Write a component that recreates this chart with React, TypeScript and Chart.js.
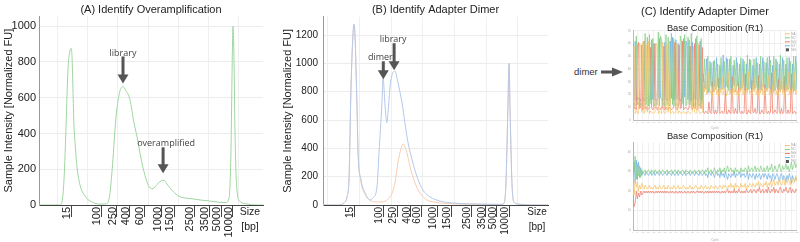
import React, { useEffect, useRef } from 'react';
import { Chart, registerables } from 'chart.js';

Chart.register(...registerables);

const SANS = '"Liberation Sans", Arial, Helvetica, sans-serif';
const NOTE = '"Open Sans", "Liberation Sans", Arial, sans-serif';

// ---------------- Panel A / B : electropherograms ----------------
const ladderSizes = ['15', '100', '250', '400', '600', '1000', '1500', '2500', '3500', '5000', '10000'];

// migration time of each ladder band (run A)
const ladderTimesA = [14.3, 27.7, 34.8, 40.6, 46.9, 54.9, 60.3, 69.2, 75.9, 81.3, 86.4];
// run A : overamplified library
const timeA = [0, 9.4, 10.3, 11.2, 12.1, 12.9, 13.8, 14.3, 14.7, 15.6, 16.1, 17.0, 18.3, 20.5, 23.7, 27.2, 29.9, 30.8, 31.7, 33.0, 33.9, 34.8, 36.2, 37.5, 38.8, 40.6, 42.4, 43.8, 45.1, 46.4, 48.2, 49.6, 50.9, 52.7, 54.5, 55.8, 57.1, 58.5, 60.3, 62.1, 64.7, 68.3, 71.9, 76.3, 80.8, 83.5, 84.8, 85.7, 86.2, 86.6, 87.1, 87.5, 88.4, 89.7, 93.3, 96.4, 100];
const intensityA = [0, 0, 20, 150, 450, 750, 860, 876, 840, 450, 348, 208, 112, 51, 17, 5, 6, 15, 67, 253, 420, 540, 640, 663, 640, 590, 460, 380, 290, 210, 130, 95, 92, 115, 135, 138, 118, 95, 70, 52, 40, 35, 28, 22, 15, 14, 35, 300, 750, 1000, 780, 400, 80, 20, 5, 0, 0];

// migration time of each ladder band (run B)
const ladderTimesB = [13.8, 26.7, 32.9, 39.1, 43.6, 50.7, 56.9, 65.8, 72.4, 77.3, 82.7];
// run B : library with adapter dimer (blue)
const timeBDimer = [0, 6.7, 9.3, 10.7, 11.6, 12.4, 13.3, 13.8, 14.2, 15.1, 15.6, 16.9, 18.7, 20.9, 22.2, 24.0, 24.9, 26.2, 26.7, 27.6, 28.4, 28.9, 29.8, 31.1, 32.0, 33.3, 35.1, 36.4, 37.8, 39.6, 41.8, 44.4, 47.6, 52.0, 57.8, 65.3, 74.2, 78.7, 80.4, 81.3, 82.2, 82.7, 83.1, 84.0, 84.9, 87.6, 92.0, 100];
const intensityBDimer = [0, 0, 15, 60, 200, 800, 1200, 1277, 1200, 700, 369, 177, 85, 35, 50, 128, 369, 723, 895, 695, 582, 652, 837, 936, 945, 865, 723, 582, 440, 319, 199, 106, 57, 28, 14, 8, 5, 4, 10, 150, 700, 1000, 700, 150, 20, 5, 0, 0];
// run B : clean library (orange)
const timeBClean = [0, 6.7, 9.3, 10.7, 11.6, 12.4, 13.3, 13.8, 14.2, 15.1, 15.6, 16.9, 18.7, 20.9, 24.0, 26.7, 28.4, 29.8, 31.1, 32.0, 33.3, 34.7, 35.6, 36.4, 37.3, 38.7, 40.9, 43.1, 46.2, 49.8, 52.0, 58.7, 65.3, 74.2, 78.7, 80.4, 81.3, 82.2, 82.7, 83.1, 84.0, 84.9, 87.6, 92.0, 100];
const intensityBClean = [0, 0, 15, 60, 200, 800, 1200, 1277, 1200, 700, 369, 160, 75, 35, 21, 22, 35, 57, 100, 156, 298, 400, 433, 410, 369, 270, 156, 85, 35, 20, 14, 8, 5, 5, 4, 10, 150, 700, 1000, 700, 150, 20, 5, 0, 0];

// ---------------- Panel C : base composition per cycle ----------------
const cycles = Array.from({ length: 150 }, (_, i) => i + 1);
const baseLabels = ['%A', '%C', '%G', '%T'];

// adapter-dimer sample
const dimerA = [6, 58, 5, 7, 6, 5, 60, 57, 6, 61, 5, 7, 59, 6, 62, 5, 7, 6, 5, 6, 6, 60, 58, 5, 7, 6, 5, 61, 6, 5, 7, 59, 6, 62, 5, 6, 7, 5, 6, 6, 60, 5, 7, 6, 5, 6, 7, 5, 6, 5, 7, 6, 5, 6, 7, 58, 6, 5, 6, 61, 7, 5, 6, 6,
  30, 22, 35, 20, 24, 38, 21, 23, 18, 26, 22, 36, 20, 24, 19, 25, 21, 34, 20, 23, 26, 19, 22, 37, 20, 24, 18, 25, 21, 35, 20, 23, 19, 26, 22, 36, 20, 24, 18, 25, 21, 38, 21, 23, 19, 27, 22, 34, 20, 24, 18, 26, 21, 37, 20, 23, 19, 25, 22, 35, 20, 24, 18, 27, 21, 39, 20, 23, 19, 26, 22, 36, 21, 24, 18, 27, 22, 38, 20, 24, 19, 26, 21, 37, 20, 24];
const dimerC = [12, 13, 11, 66, 12, 14, 11, 13, 12, 11, 13, 68, 12, 65, 11, 67, 13, 12, 64, 11, 12, 13, 12, 69, 11, 66, 63, 12, 13, 11, 67, 12, 65, 11, 13, 68, 12, 64, 11, 12, 13, 11, 12, 66, 62, 13, 12, 67, 11, 12, 65, 13, 12, 68, 11, 12, 13, 11, 66, 12, 12, 11, 64, 13,
  28, 48, 24, 26, 50, 22, 27, 45, 25, 22, 47, 24, 26, 44, 23, 27, 49, 25, 24, 46, 25, 27, 48, 23, 26, 50, 24, 26, 47, 22, 25, 45, 26, 24, 49, 25, 27, 46, 23, 26, 51, 24, 25, 47, 26, 24, 48, 25, 26, 45, 24, 25, 50, 23, 25, 46, 27, 24, 49, 26, 25, 47, 24, 25, 50, 23, 26, 46, 25, 24, 51, 24, 25, 47, 25, 23, 49, 24, 26, 46, 24, 25, 50, 23, 25, 46];
const dimerG = [60, 9, 10, 8, 58, 61, 9, 10, 59, 8, 62, 9, 10, 8, 9, 10, 57, 9, 8, 10, 60, 9, 8, 10, 9, 8, 10, 9, 58, 8, 10, 9, 8, 10, 9, 8, 9, 10, 61, 9, 8, 10, 59, 9, 10, 62, 8, 9, 10, 9, 8, 10, 58, 9, 8, 10, 60, 9, 8, 9, 59, 10, 9, 57,
  6, 5, 7, 6, 5, 14, 6, 5, 30, 6, 5, 8, 5, 6, 33, 5, 6, 7, 5, 6, 24, 5, 5, 8, 6, 5, 34, 6, 5, 9, 6, 5, 29, 6, 5, 7, 5, 6, 36, 5, 5, 8, 6, 5, 31, 6, 6, 9, 5, 6, 35, 5, 5, 8, 6, 5, 28, 6, 5, 7, 5, 6, 37, 5, 6, 8, 6, 5, 32, 6, 5, 9, 5, 6, 34, 6, 5, 8, 5, 6, 36, 5, 6, 7, 5, 6];
const dimerT = [17, 16, 62, 15, 18, 16, 17, 15, 16, 18, 15, 16, 17, 18, 16, 15, 17, 63, 16, 60, 17, 15, 16, 17, 64, 18, 16, 15, 17, 61, 16, 17, 15, 16, 62, 17, 65, 16, 18, 63, 16, 60, 17, 15, 16, 17, 64, 18, 62, 59, 16, 63, 17, 15, 61, 16, 17, 64, 16, 15, 17, 62, 16, 18,
  36, 25, 34, 48, 21, 26, 46, 27, 27, 46, 26, 32, 49, 26, 25, 43, 24, 34, 51, 25, 25, 49, 25, 32, 48, 21, 24, 43, 27, 34, 49, 27, 26, 44, 24, 32, 48, 24, 23, 44, 23, 30, 48, 25, 24, 43, 24, 32, 49, 25, 23, 44, 24, 32, 49, 26, 26, 45, 24, 32, 50, 23, 21, 43, 23, 30, 48, 26, 24, 44, 22, 31, 49, 23, 23, 44, 24, 30, 49, 24, 21, 44, 23, 33, 50, 24];

// clean library sample
const libA = [24, 18, 26, 22, 25, 20, 23, 21, 24, 22, 21, 23, 22, 21, 22, 23, 21, 22, 21, 22, 23, 21, 22, 21, 23, 22, 21, 22, 23, 21, 22, 21, 23, 22, 21, 22, 21, 23, 22, 21, 22, 23, 21, 22, 21, 22, 23, 22, 21, 22, 21, 22, 23, 21, 22, 21, 22, 23, 22, 21, 22, 21, 23, 22, 21, 22, 23, 21, 22, 22, 21, 23, 22, 22, 21, 23, 22, 21, 22, 23, 22, 21, 23, 22, 23, 22, 21, 23, 22, 24, 22, 23, 21, 24, 22, 23, 22, 21, 24, 22, 23, 22, 24, 21, 23, 22, 24, 23, 22, 24, 23, 22, 24, 23, 25, 22, 24, 23, 22, 24, 23, 25, 22, 24, 23, 25, 22, 24, 26, 23, 24, 25, 23, 26, 24, 23, 25, 27, 23, 25, 24, 26, 25, 23, 27, 25, 24, 26, 28, 25];
const libC = [46, 30, 38, 26, 34, 28, 33, 27, 31, 29, 30, 31, 29, 30, 31, 30, 29, 31, 30, 29, 31, 30, 29, 30, 31, 29, 30, 31, 30, 29, 30, 31, 29, 30, 30, 31, 29, 30, 31, 30, 29, 31, 30, 29, 30, 31, 30, 29, 31, 30, 30, 29, 31, 30, 29, 30, 31, 29, 30, 30, 31, 29, 30, 31, 30, 29, 31, 30, 32, 29, 30, 31, 29, 30, 32, 30, 29, 31, 30, 32, 29, 31, 30, 32, 29, 31, 33, 30, 31, 32, 30, 31, 29, 32, 30, 31, 30, 29, 32, 30, 31, 30, 32, 31, 29, 33, 30, 31, 32, 30, 31, 33, 30, 32, 31, 30, 33, 31, 30, 32, 30, 31, 33, 30, 32, 31, 34, 30, 31, 33, 31, 30, 32, 34, 31, 30, 33, 31, 32, 34, 31, 33, 30, 32, 35, 31, 33, 35, 32, 34];
const libG = [18, 12, 14, 20, 16, 19, 17, 20, 18, 19, 20, 19, 20, 19, 20, 19, 20, 19, 20, 19, 19, 20, 19, 20, 19, 20, 19, 20, 19, 20, 19, 20, 19, 19, 20, 19, 20, 19, 19, 20, 19, 19, 20, 19, 20, 19, 19, 20, 19, 19, 20, 19, 19, 20, 19, 20, 19, 19, 20, 20, 19, 20, 19, 20, 19, 19, 20, 19, 20, 19, 20, 19, 20, 19, 20, 19, 20, 19, 20, 19, 19, 20, 19, 20, 19, 20, 21, 19, 20, 19, 20, 19, 21, 19, 20, 19, 21, 20, 19, 20, 19, 20, 19, 21, 20, 19, 20, 21, 19, 20, 21, 20, 19, 21, 20, 22, 19, 20, 21, 19, 20, 21, 19, 22, 20, 19, 21, 20, 22, 19, 21, 20, 19, 21, 22, 20, 19, 21, 20, 22, 20, 19, 21, 22, 19, 21, 20, 19, 21, 20];
const libT = [28, 35, 24, 36, 26, 35, 27, 32, 28, 30, 29, 28, 30, 29, 28, 29, 30, 28, 29, 30, 28, 29, 30, 29, 28, 30, 29, 28, 29, 30, 29, 28, 30, 29, 29, 28, 30, 29, 28, 29, 30, 28, 29, 30, 29, 28, 29, 30, 28, 29, 29, 30, 28, 29, 30, 29, 28, 30, 29, 29, 28, 30, 29, 28, 29, 30, 28, 29, 27, 30, 29, 28, 30, 29, 27, 29, 30, 28, 29, 27, 30, 28, 29, 27, 30, 28, 26, 29, 28, 27, 29, 28, 30, 27, 29, 28, 29, 30, 27, 29, 28, 29, 27, 28, 30, 26, 29, 28, 27, 29, 28, 26, 29, 27, 28, 29, 26, 28, 29, 27, 29, 28, 26, 29, 27, 28, 25, 29, 28, 26, 28, 29, 27, 25, 28, 29, 26, 28, 27, 25, 28, 26, 29, 27, 24, 28, 26, 25, 27, 26];

const baseColors = ['#f7c46c', '#84cf85', '#f07c69', '#74b1e6'];

// ---------------- plugins ----------------
const vgridPlugin = {
  id: 'vgrid',
  beforeDatasetsDraw(chart: any, _a: any, opts: any) {
    if (!opts || !opts.at) return;
    const { ctx, chartArea, scales } = chart;
    ctx.save();
    ctx.strokeStyle = opts.color;
    ctx.lineWidth = 1;
    for (const v of opts.at) {
      const px = Math.round(scales.x.getPixelForValue(v)) + 0.5;
      ctx.beginPath();
      ctx.moveTo(px, chartArea.top);
      ctx.lineTo(px, chartArea.bottom);
      ctx.stroke();
    }
    ctx.restore();
  },
};

const arrowPlugin = {
  id: 'arrows',
  afterDatasetsDraw(chart: any, _a: any, opts: any) {
    if (!opts || !opts.items) return;
    const { ctx, scales } = chart;
    for (const a of opts.items) {
      const px = scales.x.getPixelForValue(a.x);
      const tip = scales.y.getPixelForValue(a.y) - a.gap;
      const tail = tip - a.len;
      ctx.save();
      ctx.fillStyle = '#555';
      ctx.fillRect(px - 1.5, tail, 3, a.len - 8);
      ctx.beginPath();
      ctx.moveTo(px - 5.5, tip - 9);
      ctx.lineTo(px + 5.5, tip - 9);
      ctx.lineTo(px, tip);
      ctx.closePath();
      ctx.fill();
      ctx.font = `9px ${NOTE}`;
      ctx.textAlign = 'center';
      ctx.textBaseline = 'bottom';
      ctx.fillStyle = '#444';
      ctx.fillText(a.label, px + (a.dx || 0), tail + 1);
      ctx.restore();
    }
  },
};

const sizeLabelPlugin = {
  id: 'sizeLabel',
  afterDraw(chart: any, _a: any, opts: any) {
    if (!opts || !opts.size) return;
    const { ctx, chartArea } = chart;
    ctx.save();
    ctx.font = `${opts.size}px ${SANS}`;
    ctx.fillStyle = '#222';
    ctx.textAlign = 'center';
    ctx.textBaseline = 'middle';
    ctx.fillText('Size', chartArea.right - opts.dx, chartArea.bottom + 7);
    ctx.fillText('[bp]', chartArea.right - opts.dx, chartArea.bottom + 22);
    ctx.restore();
  },
};

const miniLegendPlugin = {
  id: 'miniLegend',
  afterDraw(chart: any) {
    const { ctx, chartArea } = chart;
    const x = chartArea.right - 11;
    const items = chart.data.datasets.map((d: any) => ({ label: d.label, color: d.borderColor, box: false }));
    items.push({ label: '%N', color: '#555', box: true });
    ctx.save();
    ctx.font = `3px ${SANS}`;
    ctx.textBaseline = 'middle';
    ctx.textAlign = 'left';
    items.forEach((it: any, i: number) => {
      const y = chartArea.top + 3 + i * 4;
      if (it.box) {
        ctx.fillStyle = it.color;
        ctx.fillRect(x, y - 1.5, 3, 3);
      } else {
        ctx.strokeStyle = it.color;
        ctx.lineWidth = 1;
        ctx.beginPath();
        ctx.moveTo(x - 1, y);
        ctx.lineTo(x + 4, y);
        ctx.stroke();
      }
      ctx.fillStyle = '#999';
      ctx.fillText(it.label, x + 5, y);
    });
    ctx.restore();
  },
};

// ---------------- chart builders ----------------
function toPoints(xs: number[], ys: number[]) {
  return xs.map((x, i) => ({ x, y: ys[i] }));
}

function electroChart(canvas: HTMLCanvasElement, o: any) {
  return new Chart(canvas, {
    type: 'line',
    data: { datasets: o.datasets },
    plugins: [vgridPlugin, arrowPlugin, sizeLabelPlugin],
    options: {
      responsive: false,
      animation: false,
      events: [],
      layout: { padding: { left: 0, right: o.rightPad, top: 0, bottom: 0 } },
      elements: { point: { radius: 0 }, line: { borderWidth: 1, cubicInterpolationMode: 'monotone' } },
      plugins: {
        legend: { display: false },
        tooltip: { enabled: false },
        title: {
          display: true,
          text: o.title,
          fullSize: false,
          color: '#222',
          font: { family: SANS, size: 11, weight: 'normal', lineHeight: 1.2 },
          padding: { top: o.titlePadTop, bottom: 0 },
        },
        vgrid: { at: o.vgrid, color: '#efefef' },
        arrows: { items: o.arrows },
        sizeLabel: { dx: o.sizeDx, size: o.sizeFont },
      } as any,
      scales: {
        x: {
          type: 'linear',
          min: 0,
          max: 100,
          afterFit: (s: any) => { s.height = 37; },
          afterBuildTicks: (s: any) => { s.ticks = o.ladder.map((v: number) => ({ value: v })); },
          ticks: {
            autoSkip: false,
            minRotation: 90,
            maxRotation: 90,
            padding: -10,
            labelOffset: -4,
            color: '#222',
            font: { family: SANS, size: o.xTickFont },
            callback: (_v: any, i: number) => ladderSizes[i],
          },
          grid: { drawOnChartArea: false, drawTicks: true, tickLength: 12, tickColor: '#444', tickWidth: 1 },
          border: { display: true, color: '#444', width: 1 },
        },
        y: {
          min: 0,
          max: o.yMax,
          afterFit: (s: any) => { s.width = o.yAxisWidth; },
          ticks: {
            stepSize: 200,
            includeBounds: false,
            padding: o.yTickPad,
            color: '#222',
            font: { family: SANS, size: o.yTickFont },
            callback: (v: any) => String(v),
          },
          grid: { color: '#ececec', drawTicks: false },
          border: { display: true, color: '#999' },
          title: {
            display: true,
            text: 'Sample Intensity [Normalized FU]',
            color: '#222',
            font: { family: SANS, size: 11 },
            padding: { top: o.yTitlePad, bottom: 0 },
          },
        },
      },
    } as any,
  });
}

function compChart(canvas: HTMLCanvasElement, o: any) {
  return new Chart(canvas, {
    type: 'line',
    data: {
      labels: cycles,
      datasets: o.series.map((s: number[], i: number) => ({
        label: baseLabels[i],
        data: s,
        borderColor: baseColors[i],
        borderWidth: 0.75,
        pointRadius: 0,
        tension: 0,
      })),
    },
    plugins: [miniLegendPlugin],
    options: {
      responsive: false,
      animation: false,
      events: [],
      layout: { padding: { left: 0, right: 2, top: 0, bottom: 0 } },
      plugins: {
        legend: { display: false },
        tooltip: { enabled: false },
        title: o.title,
        subtitle: o.subtitle || { display: false },
      },
      scales: {
        x: {
          type: 'linear',
          min: 1,
          max: 150,
          afterFit: (s: any) => { s.height = o.xHeight; },
          ticks: { stepSize: 5, autoSkip: false, maxRotation: 0, padding: 1, color: '#bbb', font: { family: SANS, size: 2.5 } },
          grid: { color: '#f1f1f1', drawTicks: false },
          border: { display: true, color: '#bbb' },
          title: { display: true, text: 'Cycle', color: '#aaa', font: { family: SANS, size: 3 }, padding: 0 },
        },
        y: {
          min: 0,
          max: o.yMax,
          afterFit: (s: any) => { s.width = 21; },
          ticks: { stepSize: 10, includeBounds: false, padding: 2, color: '#aaa', font: { family: SANS, size: 3 }, callback: (v: any) => String(v) },
          grid: { color: '#eeeeee', drawTicks: false },
          border: { display: true, color: '#bbb' },
        },
      },
    } as any,
  });
}

// ---------------- components ----------------
function ChartBox({ left, top, width, height, make }: any) {
  const ref = useRef<HTMLCanvasElement>(null);
  useEffect(() => {
    const ch = make(ref.current as HTMLCanvasElement);
    return () => ch.destroy();
  }, []);
  return (
    <canvas
      ref={ref}
      width={width}
      height={height}
      style={{ position: 'absolute', left, top, width, height }}
    />
  );
}

export default function App() {
  return (
    <div style={{ position: 'fixed', left: 0, top: 0, width: 800, height: 242, background: '#fff', overflow: 'hidden' }}>
      <ChartBox
        left={0}
        top={0}
        width={270}
        height={242}
        make={(c: HTMLCanvasElement) =>
          electroChart(c, {
            title: '(A) Identify Overamplification',
            titlePadTop: 3,
            yMax: 1056,
            yAxisWidth: 39,
            yTickPad: 3,
            yTickFont: 11,
            xTickFont: 11,
            yTitlePad: 2,
            rightPad: 7,
            ladder: ladderTimesA,
            vgrid: [8, 21.5, 35, 48.5, 62, 75.5, 89],
            sizeDx: 13,
            sizeFont: 10.5,
            datasets: [
              { data: toPoints(timeA, intensityA), borderColor: '#9fd6a0' },
            ],
            arrows: [
              { x: 37.5, y: 663, gap: 3, len: 27, label: 'library', dx: 0 },
              { x: 55.4, y: 138, gap: 7, len: 26, label: 'overamplified', dx: 3 },
            ],
          })
        }
      />
      <ChartBox
        left={270}
        top={0}
        width={290}
        height={242}
        make={(c: HTMLCanvasElement) =>
          electroChart(c, {
            title: '(B) Identify Adapter Dimer',
            titlePadTop: 3.5,
            yMax: 1330,
            yAxisWidth: 53,
            yTickPad: 5,
            yTickFont: 10,
            xTickFont: 10,
            yTitlePad: 11.4,
            rightPad: 12,
            ladder: ladderTimesB,
            vgrid: [1.8, 15.9, 30, 44.1, 58.2, 72.3, 86.4],
            sizeDx: 11,
            sizeFont: 10,
            datasets: [
              { data: toPoints(timeBDimer, intensityBDimer), borderColor: '#b4c8ea' },
              { data: toPoints(timeBClean, intensityBClean), borderColor: '#f8cdb0' },
            ],
            arrows: [
              { x: 31.6, y: 945, gap: 1, len: 27, label: 'library', dx: -1 },
              { x: 26.8, y: 895, gap: -1, len: 18, label: 'dimer', dx: -3 },
            ],
          })
        }
      />
      <ChartBox
        left={612}
        top={0}
        width={188}
        height={130}
        make={(c: HTMLCanvasElement) =>
          compChart(c, {
            series: [dimerA, dimerC, dimerG, dimerT],
            yMax: 70,
            xHeight: 10,
            title: {
              display: true,
              text: '(C) Identify Adapter Dimer',
              fullSize: true,
              color: '#222',
              font: { family: SANS, size: 11, weight: 'normal', lineHeight: 1 },
              padding: { top: 6.5, bottom: 0 },
            },
            subtitle: {
              display: true,
              text: 'Base Composition (R1)',
              fullSize: false,
              color: '#222',
              font: { family: SANS, size: 9.3, weight: 'normal', lineHeight: 1 },
              padding: { top: 6, bottom: -2 },
            },
          })
        }
      />
      <ChartBox
        left={612}
        top={129}
        width={188}
        height={113}
        make={(c: HTMLCanvasElement) =>
          compChart(c, {
            series: [libA, libC, libG, libT],
            yMax: 45,
            xHeight: 12,
            title: {
              display: true,
              text: 'Base Composition (R1)',
              fullSize: false,
              color: '#222',
              font: { family: SANS, size: 9.3, weight: 'normal', lineHeight: 1 },
              padding: { top: 3, bottom: 1.2 },
            },
          })
        }
      />
      <div style={{ position: 'absolute', left: 574, top: 66, font: `9.5px ${SANS}`, lineHeight: '12px', color: '#333' }}>dimer</div>
      <svg style={{ position: 'absolute', left: 600, top: 66 }} width={24} height={12}>
        <rect x={1} y={4.5} width={13} height={3} fill="#555" />
        <polygon points="12,1.5 23,6 12,10.5" fill="#555" />
      </svg>
    </div>
  );
}
